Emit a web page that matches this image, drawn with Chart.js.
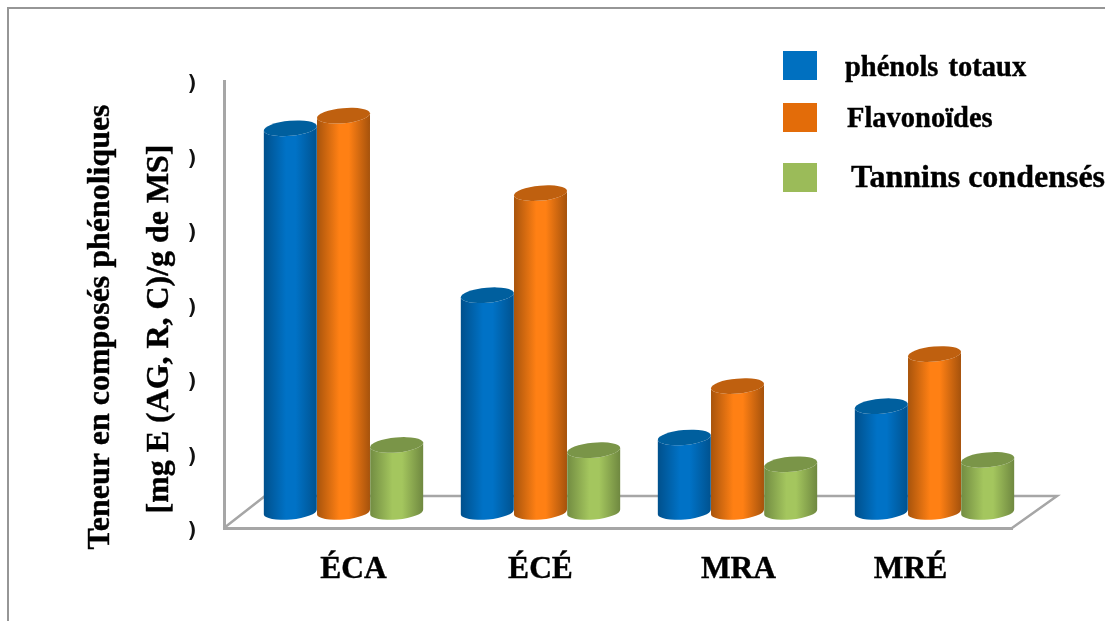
<!DOCTYPE html>
<html>
<head>
<meta charset="utf-8">
<title>Teneur en composés phénoliques</title>
<script src="https://cdn.jsdelivr.net/npm/chart.js@4/dist/chart.umd.min.js"></script>
<style>
  html, body { margin: 0; padding: 0; background: #fff; overflow: hidden; }
  #wrap { position: relative; width: 1105px; height: 621px; }
  #frame { position: absolute; left: 7px; top: 7px; right: -4px; bottom: -4px; border: 2px solid #969696; }
  canvas { position: absolute; left: 0; top: 0; }
</style>
</head>
<body>
<div id="wrap">
  <div id="frame"></div>
  <canvas id="phenolChart" width="1105" height="621"></canvas>
</div>
<script>
const categories = ["ÉCA", "ÉCÉ", "MRA", "MRÉ"];
const phenols = [5.15, 2.91, 1.0, 1.42];
const flavonoides = [5.32, 4.28, 1.69, 2.12];
const tannins = [0.9, 0.83, 0.64, 0.7];
const yTickLabels = [")", ")", ")", ")", ")", ")", ")"];
const seriesNames = ["phénols totaux", "Flavonoïdes", "Tannins condensés"];
const yTitleLines = ["Teneur en composés phénoliques", "[mg E (AG, R, C)/g de MS]"];

const serif = "'Liberation Serif', 'Times New Roman', serif";
const axisGrey = "#a6a6a6";

// offset of the bar row inside the 3D floor
const depthX = 21;
const depthY = 16;

// left, mid and right tones of each cylinder, then its cap
const shades = [
  ["#00508c", "#0072c6", "#00528f", "#005f9e"],
  ["#a8540c", "#ff8014", "#a5520c", "#bf600f"],
  ["#728c42", "#a4c65e", "#6f8840", "#7a9548"]
];
const legendColors = ["#0070c0", "#e36c09", "#9bbb59"];

function drawCylinder(ctx, x, top, base, width, tones) {
  const cx = x + depthX;
  const rx = width / 2;
  const ry = 7.5;
  const tilt = -0.09;
  const topY = top - depthY;
  const baseY = base - depthY;

  const grad = ctx.createLinearGradient(cx - rx, 0, cx + rx, 0);
  grad.addColorStop(0, tones[0]);
  grad.addColorStop(0.42, tones[1]);
  grad.addColorStop(0.6, tones[1]);
  grad.addColorStop(1, tones[2]);

  ctx.save();
  ctx.fillStyle = grad;
  ctx.beginPath();
  ctx.ellipse(cx, topY, rx, ry, tilt, Math.PI, 0, true);
  ctx.ellipse(cx, baseY, rx, ry, tilt, 0, Math.PI, false);
  ctx.closePath();
  ctx.fill();

  ctx.fillStyle = tones[3];
  ctx.beginPath();
  ctx.ellipse(cx, topY, rx, ry, tilt, 0, Math.PI * 2);
  ctx.fill();
  ctx.restore();
}

const cylinderPlugin = {
  id: "cylinders",
  beforeDatasetsDraw(chart) {
    // back and side edges of the floor, front edges come from the axes
    const area = chart.chartArea;
    const ctx = chart.ctx;
    ctx.save();
    ctx.strokeStyle = axisGrey;
    ctx.lineWidth = 2.5;
    ctx.beginPath();
    ctx.moveTo(area.left, area.bottom);
    ctx.lineTo(area.left + 41, area.bottom - 32);
    ctx.lineTo(area.right + 45, area.bottom - 32);
    ctx.lineTo(area.right, area.bottom);
    ctx.stroke();
    ctx.restore();
  },
  beforeDatasetDraw(chart, args) {
    const tones = shades[args.index];
    args.meta.data.forEach(bar => {
      drawCylinder(chart.ctx, bar.x, bar.y, bar.base, bar.width, tones);
    });
    return false;
  }
};

function boldText(ctx, text, x, y) {
  ctx.fillText(text, x, y);
  ctx.strokeText(text, x, y);
}

const textPlugin = {
  id: "chartText",
  afterDraw(chart) {
    const ctx = chart.ctx;
    ctx.save();
    ctx.fillStyle = "#000";
    ctx.strokeStyle = "#000";
    ctx.lineWidth = 0.4;
    ctx.textBaseline = "alphabetic";

    // y title, two rotated lines, drawn a bit wide
    ctx.font = "bold 31px " + serif;
    ctx.textAlign = "center";
    [[109, 327], [168, 329]].forEach((pos, i) => {
      ctx.save();
      ctx.translate(pos[0], pos[1]);
      ctx.rotate(-Math.PI / 2);
      ctx.scale(1.03, 1);
      boldText(ctx, yTitleLines[i], 0, 0);
      ctx.restore();
    });

    // category labels sit a little off their groups
    const nudge = [10, 0, 1, -24];
    const xScale = chart.scales.x;
    ctx.font = "bold 31.5px " + serif;
    categories.forEach((name, i) => {
      boldText(ctx, name, xScale.getPixelForValue(i) + depthX + nudge[i], 578);
    });

    // legend
    const rows = [
      { box: 51, text: 76, x: 845, size: 28.5, gap: "3px" },
      { box: 103, text: 127, x: 847, size: 28.5, gap: "0px" },
      { box: 163, text: 187, x: 851, size: 32, gap: "0px" }
    ];
    ctx.textAlign = "left";
    rows.forEach((row, i) => {
      ctx.fillStyle = legendColors[i];
      ctx.fillRect(783, row.box, 34, 29);
      ctx.fillStyle = "#000";
      ctx.font = "bold " + row.size + "px " + serif;
      ctx.wordSpacing = row.gap;
      boldText(ctx, seriesNames[i], row.x, row.text);
    });
    ctx.restore();
  }
};

new Chart(document.getElementById("phenolChart"), {
  type: "bar",
  data: {
    labels: categories,
    datasets: [
      { label: seriesNames[0], data: phenols, backgroundColor: legendColors[0] },
      { label: seriesNames[1], data: flavonoides, backgroundColor: legendColors[1] },
      { label: seriesNames[2], data: tannins, backgroundColor: legendColors[2] }
    ]
  },
  options: {
    responsive: false,
    animation: false,
    layout: { padding: { left: 0, top: 81, right: 93, bottom: 93 } },
    datasets: { bar: { barPercentage: 1, categoryPercentage: 0.81 } },
    plugins: { legend: { display: false }, tooltip: { enabled: false } },
    scales: {
      x: {
        grid: { display: false, drawTicks: false },
        border: { color: axisGrey, width: 3 },
        ticks: { display: false }
      },
      y: {
        min: 0,
        max: 6,
        afterFit(scale) { scale.width = 224; },
        grid: { display: false, drawTicks: false },
        border: { color: axisGrey, width: 3 },
        ticks: {
          stepSize: 1,
          padding: 25,
          color: "#111",
          font: { family: "'DejaVu Sans Mono', monospace", weight: "bold", size: 22, lineHeight: "7px" },
          // blank first line pushes the glyph just under the tick
          callback: (value, i) => ["", yTickLabels[i]]
        }
      }
    }
  },
  plugins: [cylinderPlugin, textPlugin]
});
</script>
</body>
</html>
